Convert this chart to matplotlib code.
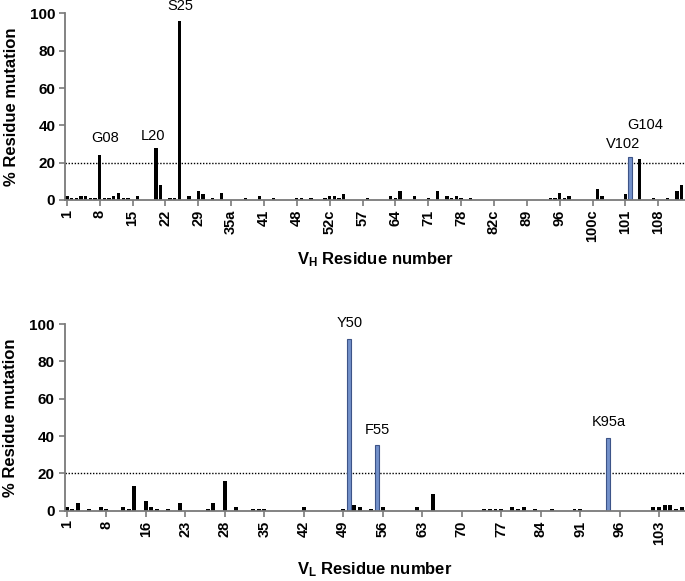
import matplotlib.pyplot as plt

plt.rcParams['font.family'] = ['Liberation Sans', 'DejaVu Sans']
plt.rcParams['mathtext.fontset'] = 'custom'
plt.rcParams['mathtext.bf'] = 'Liberation Sans:bold'
plt.rcParams['mathtext.rm'] = 'Liberation Sans'

# ---- VH (heavy chain): bar index along axis and % residue mutation
vh_pos = [0, 1, 2, 3, 4, 5, 6, 7, 8, 9, 10, 11, 12, 13, 15, 19, 20, 22, 23, 24,
          26, 28, 29, 31, 33, 38, 41, 44, 49, 50, 52, 55, 56, 57, 58, 59, 64,
          69, 70, 71, 74, 77, 79, 81, 82, 83, 84, 86, 103, 104, 105, 106, 107,
          113, 114, 119, 122, 125, 128, 130, 131]
vh_val = [2, 1, 1, 2, 2, 1, 1, 24, 1, 1, 2, 4, 1, 1, 2, 28, 8, 1, 1, 96,
          2, 5, 3, 1, 4, 1, 2, 1, 1, 1, 1, 1, 2, 2, 1, 3, 1,
          2, 1, 5, 2, 1, 5, 2, 1, 2, 1, 1, 1, 1, 4, 1, 2,
          6, 2, 3, 22, 1, 1, 5, 8]
vh_hi_pos = [120]
vh_hi_val = [23]
vh_ticks = ['1', '8', '15', '22', '29', '35a', '41', '48', '52c', '57', '64',
            '71', '78', '82c', '89', '96', '100c', '101', '108']
vh_notes = ['G08', 'L20', 'S25', 'V102', 'G104']

# ---- VL (light chain)
vl_pos = [0, 1, 2, 4, 6, 7, 10, 11, 12, 14, 15, 16, 18, 20, 25, 26, 28, 30,
          33, 34, 35, 42, 49, 51, 52, 54, 56, 62, 65, 74, 75, 76, 77, 79, 80,
          81, 83, 86, 90, 91, 104, 105, 106, 107, 108, 109]
vl_val = [2, 1, 4, 1, 2, 1, 2, 1, 13, 5, 2, 1, 1, 4, 1, 4, 16, 2,
          1, 1, 1, 2, 1, 3, 2, 1, 2, 2, 9, 1, 1, 1, 1, 2, 1,
          2, 1, 1, 1, 1, 2, 2, 3, 3, 1, 2]
vl_hi_pos = [50, 55, 96]
vl_hi_val = [92, 35, 39]
vl_ticks = ['1', '8', '16', '23', '28', '35', '42', '49', '56', '63', '70',
            '77', '84', '91', '96', '103']
vl_notes = ['Y50', 'F55', 'K95a']

fig = plt.figure(figsize=(6.85, 5.81), dpi=100)
ax1 = fig.add_axes([65 / 685, 0.6558, 620 / 685, 0.321])
ax2 = fig.add_axes([64.5 / 685, 0.121, 620 / 685, 0.3213])

grey = '#7a7a7a'


def draw(ax, pos, val, hi_pos, hi_val, ticks, xmax, xlabel, pad):
    ax.bar(pos, val, width=0.7, color='black', zorder=2)
    ax.bar(hi_pos, hi_val, width=0.7, color='#7391ca', edgecolor='#3d5488',
           linewidth=0.8, zorder=2)
    ax.axhline(20, color='black', lw=1.0, ls=(0, (1, 1.2)), zorder=1)
    ax.set_ylim(0, 100)
    ax.set_xlim(-0.4, xmax)
    ax.set_yticks([0, 20, 40, 60, 80, 100])
    ax.set_xticks(range(0, 7 * len(ticks), 7))
    ax.set_xticklabels(ticks, rotation=90, fontweight='bold', fontsize=10.5)
    for lab in ax.get_yticklabels():
        lab.set_fontweight('bold')
        lab.set_fontsize(11)
    ax.tick_params(direction='out', length=4, width=1.2, color=grey, pad=3)
    for s in ['top', 'right']:
        ax.spines[s].set_visible(False)
    for s in ['left', 'bottom']:
        ax.spines[s].set_color(grey)
        ax.spines[s].set_linewidth(1.3)
    ax.set_ylabel('% Residue mutation', fontsize=12, fontweight='bold', labelpad=8)
    ax.set_xlabel(xlabel, fontsize=12, fontweight='bold', labelpad=pad)


draw(ax1, vh_pos, vh_val, vh_hi_pos, vh_hi_val, vh_ticks, 131.7,
     r'$\mathbf{V_H}$ Residue number', 6)
draw(ax2, vl_pos, vl_val, vl_hi_pos, vl_hi_val, vl_ticks, 109.5,
     r'$\mathbf{V_L}$ Residue number', 11)

# label placement (x index, y in data units)
vh_xy = [(8.1, 33.4), (18.4, 34.3), (24.2, 104), (118.5, 30), (123.3, 40.2)]
vl_xy = [(50.1, 100.4), (55.1, 43.2), (96.1, 47.3)]
for t, (x, y) in zip(vh_notes, vh_xy):
    ax1.text(x, y, t, ha='center', va='center', fontsize=10.5)
for t, (x, y) in zip(vl_notes, vl_xy):
    ax2.text(x, y, t, ha='center', va='center', fontsize=10.5)

fig.savefig('out.png', dpi=100)
